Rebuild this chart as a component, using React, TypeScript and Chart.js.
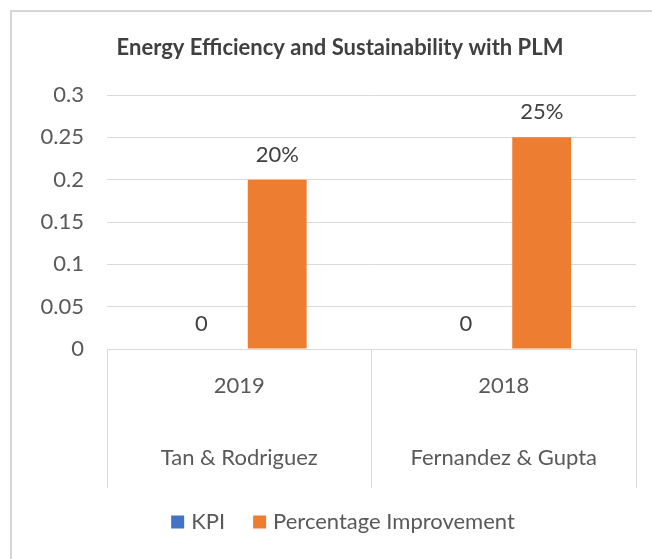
import React, { useEffect, useRef } from "react";
import { Chart, registerables } from "chart.js";

Chart.register(...registerables);

const titleText = "Energy Efficiency and Sustainability with PLM";
const years = ["2019", "2018"];
const authors = ["Tan & Rodriguez", "Fernandez & Gupta"];
const seriesNames = ["KPI", "Percentage Improvement"];
const kpiValues = [0, 0];
const improvementValues = [0.2, 0.25];
const yTicks = [0, 0.05, 0.1, 0.15, 0.2, 0.25, 0.3];

const BLUE = "#4472C4";
const ORANGE = "#ED7D31";
const GRID = "#d9d9d9";
const TEXT = "#595959";
const FONT = "Lato, 'Open Sans', sans-serif";

const formatLabel = (dsIndex: number, v: number) =>
  dsIndex === 1 ? `${Math.round(v * 100)}%` : `${v}`;

const decorPlugin = {
  id: "decor",
  beforeDraw(chart: any) {
    const { ctx } = chart;
    ctx.save();
    ctx.fillStyle = "#ffffff";
    ctx.fillRect(0, 0, chart.width, chart.height);
    ctx.strokeStyle = "#d6d6d6";
    ctx.lineWidth = 2;
    ctx.strokeRect(11, 11, chart.width + 20, chart.height + 20);
    ctx.restore();
  },
  afterDraw(chart: any) {
    const { ctx } = chart;
    const x = chart.scales.x;
    ctx.save();
    ctx.fillStyle = "#404040";
    ctx.font = `bold 22px ${FONT}`;
    ctx.textAlign = "center";
    ctx.textBaseline = "middle";
    ctx.fillText(titleText, 340, 48);

    ctx.fillStyle = TEXT;
    ctx.font = `22px ${FONT}`;
    years.forEach((_, i) => {
      const px = x.getPixelForValue(i);
      ctx.fillText(years[i], px, 386);
      ctx.fillText(authors[i], px, 458);
    });

    ctx.font = `22px ${FONT}`;
    ctx.textAlign = "left";
    const box = 13;
    const gapText = 7;
    const gapItem = 28;
    const colors = [BLUE, ORANGE];
    const widths = seriesNames.map((n) => box + gapText + ctx.measureText(n).width);
    const total = widths.reduce((a, b) => a + b, 0) + gapItem * (widths.length - 1);
    let lx = 343 - total / 2;
    const ly = 522;
    seriesNames.forEach((n, i) => {
      ctx.fillStyle = colors[i];
      ctx.fillRect(lx, ly - box / 2, box, box);
      ctx.fillStyle = TEXT;
      ctx.fillText(n, lx + box + gapText, ly);
      lx += widths[i] + gapItem;
    });
    ctx.restore();
  },
  afterDatasetsDraw(chart: any) {
    const { ctx } = chart;
    ctx.save();
    ctx.fillStyle = "#404040";
    ctx.font = `22px ${FONT}`;
    ctx.textAlign = "center";
    ctx.textBaseline = "middle";
    chart.data.datasets.forEach((ds: any, di: number) => {
      const meta = chart.getDatasetMeta(di);
      meta.data.forEach((el: any, i: number) => {
        ctx.fillText(formatLabel(di, ds.data[i]), el.x, el.y - 25);
      });
    });
    ctx.restore();
  },
};

export default function App() {
  const ref = useRef<HTMLCanvasElement>(null);
  useEffect(() => {
    if (!ref.current) return;
    const chart = new Chart(ref.current, {
      type: "bar",
      data: {
        labels: years,
        datasets: [
          {
            label: seriesNames[0],
            data: kpiValues,
            backgroundColor: BLUE,
            categoryPercentage: 0.574,
            barPercentage: 0.776,
          },
          {
            label: seriesNames[1],
            data: improvementValues,
            backgroundColor: ORANGE,
            categoryPercentage: 0.574,
            barPercentage: 0.776,
          },
        ],
      },
      options: {
        animation: false,
        responsive: false,
        maintainAspectRatio: false,
        layout: { padding: { left: 0, right: 16, top: 95, bottom: 71 } },
        plugins: {
          legend: { display: false },
          title: { display: false },
          tooltip: { enabled: false },
        },
        scales: {
          x: {
            afterFit: (s: any) => {
              s.height = 139;
            },
            grid: {
              offset: true,
              drawOnChartArea: false,
              drawTicks: true,
              tickLength: 139,
              color: GRID,
              lineWidth: 1,
            },
            border: { display: true, color: GRID },
            ticks: { display: false },
          },
          y: {
            min: 0,
            max: 0.3,
            afterFit: (s: any) => {
              s.width = 107;
            },
            afterBuildTicks: (s: any) => {
              s.ticks = yTicks.map((v) => ({ value: v }));
            },
            grid: { color: GRID, drawTicks: false, lineWidth: 1 },
            border: { display: false },
            ticks: {
              padding: 23,
              color: TEXT,
              font: { family: FONT, size: 22 },
              callback: (v: any) => `${Number(Number(v).toFixed(2))}`,
            },
          },
        },
      },
      plugins: [decorPlugin],
    });
    return () => chart.destroy();
  }, []);
  return (
    <div style={{ position: "absolute", left: 0, top: 0, width: 652, height: 559 }}>
      <canvas ref={ref} width={652} height={559} style={{ width: 652, height: 559 }} />
    </div>
  );
}
